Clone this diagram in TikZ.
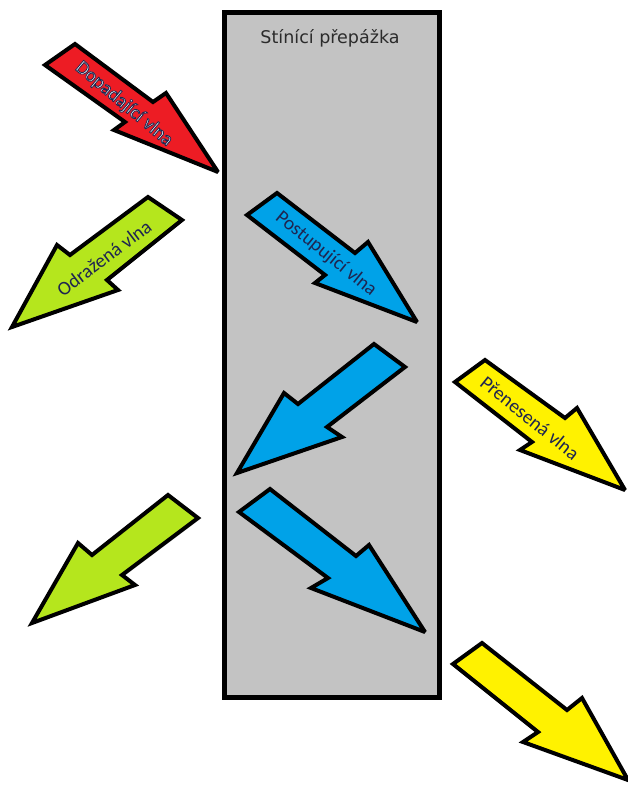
\documentclass[tikz,border=0pt]{standalone}
\usepackage{fontspec}
\setmainfont{Carlito}
\newfontfamily\titlefont{DejaVu Sans}
\definecolor{wred}{HTML}{ED1C24}
\definecolor{wgreen}{HTML}{B5E61D}
\definecolor{wblue}{HTML}{00A2E8}
\definecolor{wyellow}{HTML}{FFF200}
\definecolor{wgray}{HTML}{C3C3C3}
\definecolor{wnavy}{HTML}{1F2550}
\definecolor{wtitle}{HTML}{2B2B2B}
\newcommand{\navyoutline}[1]{\special{pdf:literal direct 2 Tr 0.8 w 0.12 0.15 0.31 RG}#1\special{pdf:literal direct 0 Tr}}
\begin{document}
\begin{tikzpicture}[x=1pt,y=-1pt,
  shapearrow/.style={draw=black,line width=4pt,line join=miter,miter limit=3},
  arrowtext/.style={font=\fontsize{19.5}{21}\selectfont,text=wnavy,inner sep=0pt},
  titletext/.style={font=\titlefont\fontsize{17.5}{19}\selectfont,text=wtitle,inner sep=0pt}]
\useasboundingbox (0,0) rectangle (628,785);
\fill[white] (0,0) rectangle (628,785);
% shielding barrier
\draw[fill=wgray,line width=5pt] (224.5,12.5) rectangle (439.5,697.5);
\node[titletext] (title) at (330,38) {Stínící přepážka};
% incident wave
\draw[shapearrow,fill=wred] (75,44) -- (153,102) -- (166,93) -- (218,172) -- (114,130) -- (125,122) -- (45,65) -- cycle;
% reflected wave (upper)
\draw[shapearrow,fill=wgreen] (148,197) -- (70,255) -- (57,245) -- (12,327) -- (118,290) -- (107,280) -- (182,220) -- cycle;
% progressing wave
\draw[shapearrow,fill=wblue] (277,193) -- (355,253) -- (368,242) -- (417,322) -- (315,283) -- (325,275) -- (247,215) -- cycle;
% transmitted wave (upper)
\draw[shapearrow,fill=wyellow] (485,360) -- (565,418) -- (577,408) -- (625,490) -- (520,450) -- (532,442) -- (455,382) -- cycle;
% blue middle
\draw[shapearrow,fill=wblue] (374,344) -- (298,404) -- (284,393) -- (237,473) -- (342,437) -- (327,427) -- (405,367) -- cycle;
% green lower
\draw[shapearrow,fill=wgreen] (168,495) -- (92,555) -- (78,543) -- (32,623) -- (135,585) -- (122,575) -- (198,518) -- cycle;
% blue lower
\draw[shapearrow,fill=wblue] (270,489) -- (356,556) -- (369,545) -- (425,632) -- (311,588) -- (328,578) -- (239,512) -- cycle;
% yellow lower
\draw[shapearrow,fill=wyellow] (482,643) -- (567,710) -- (582,698) -- (628,780) -- (523,742) -- (538,732) -- (453,664) -- cycle;
% labels
\node[arrowtext,text=white,rotate=-40] (incident) at (124,104) {\navyoutline{Dopadající vlna}};
\node[arrowtext,rotate=37] (reflected) at (104,258) {Odražená vlna};
\node[arrowtext,rotate=-39] (progress) at (326,254) {Postupující vlna};
\node[arrowtext,rotate=-39] (transmit) at (530,418) {Přenesená vlna};
\end{tikzpicture}
\end{document}
